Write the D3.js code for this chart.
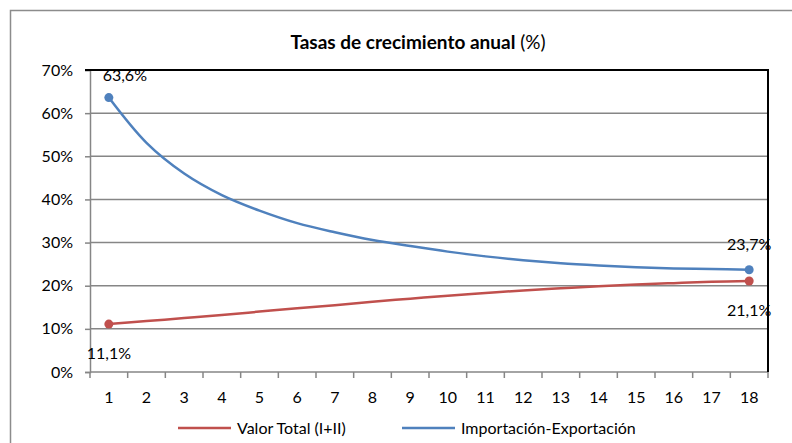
<!DOCTYPE html>
<meta charset="utf-8">
<head>
<title>Tasas de crecimiento anual</title>
<script src="https://d3js.org/d3.v7.min.js"></script>
<style>
  body { margin: 0; background: #fff; }
  text { font-family: Lato, "Open Sans", sans-serif; fill: #000; }
</style>
</head>
<body>
<div id="chart"></div>
<script>
// data
var years = ["1","2","3","4","5","6","7","8","9","10","11","12","13","14","15","16","17","18"];
var valorTotal = [11.1, 11.8, 12.5, 13.2, 14.0, 14.8, 15.5, 16.3, 17.0, 17.7, 18.3, 18.9, 19.4, 19.9, 20.3, 20.6, 20.9, 21.1];
var impExp = [63.6, 53.1, 46.0, 41.0, 37.4, 34.5, 32.4, 30.6, 29.2, 27.9, 26.8, 25.9, 25.2, 24.7, 24.3, 24.0, 23.85, 23.7];
var yTicks = [0, 10, 20, 30, 40, 50, 60, 70];
var seriesNames = ["Valor Total (I+II)", "Importación-Exportación"];

var W = 792, H = 443;
var margin = {top: 70, right: 24, bottom: 71, left: 90};
var width = W - margin.left - margin.right,
    height = H - margin.top - margin.bottom;

var svg = d3.select("#chart").append("svg")
    .attr("width", W)
    .attr("height", H);

// outer chart frame (cut off at right and bottom)
svg.append("rect")
    .attr("x", 10.5).attr("y", 10.5)
    .attr("width", 900).attr("height", 600)
    .attr("fill", "none")
    .attr("stroke", "#8c8c8c")
    .attr("stroke-width", 1.5);

// title
var title = svg.append("text")
    .attr("x", 418)
    .attr("y", 49)
    .attr("text-anchor", "middle")
    .style("font-size", "19px");
title.append("tspan").style("font-weight", "bold").text("Tasas de crecimiento anual");
title.append("tspan").text(" (%)");

var g = svg.append("g")
    .attr("transform", "translate(" + margin.left + "," + margin.top + ")");

var x = d3.scaleBand().domain(years).range([0, width]);
var y = d3.scaleLinear().domain([0, 70]).range([height, 0]);
var cx = function(d) { return x(d) + x.bandwidth() / 2; };

// gridlines
g.append("g")
  .selectAll("line")
  .data(yTicks.slice(1))
  .enter().append("line")
    .attr("x1", 0).attr("x2", width)
    .attr("y1", function(d) { return y(d); })
    .attr("y2", function(d) { return y(d); })
    .attr("stroke", "#868686")
    .attr("stroke-width", 1.5);

// y axis
var yAxis = g.append("g")
    .call(d3.axisLeft(y).tickValues(yTicks).tickSize(5).tickPadding(12)
      .tickFormat(function(d) { return d + "%"; }));
yAxis.selectAll("line, path").attr("stroke", "#868686").attr("stroke-width", 1.5);
yAxis.selectAll("text").style("font-size", "16px").style("font-family", "Lato, sans-serif");

// x axis, ticks at band boundaries
var xAxisG = g.append("g").attr("transform", "translate(0," + height + ")");
xAxisG.append("line")
    .attr("x1", 0).attr("x2", width)
    .attr("stroke", "#868686").attr("stroke-width", 1.5);
xAxisG.selectAll(".bt")
  .data(years.concat(["end"]))
  .enter().append("line")
    .attr("x1", function(d, i) { return i * x.bandwidth(); })
    .attr("x2", function(d, i) { return i * x.bandwidth(); })
    .attr("y1", 0).attr("y2", 6)
    .attr("stroke", "#868686").attr("stroke-width", 1.5);
xAxisG.selectAll(".xl")
  .data(years)
  .enter().append("text")
    .attr("x", cx)
    .attr("y", 31)
    .attr("text-anchor", "middle")
    .style("font-size", "16px")
    .text(function(d) { return d; });

// black plot border on top and right
g.append("line")
    .attr("x1", -5).attr("x2", width + 1).attr("y1", 0).attr("y2", 0)
    .attr("stroke", "#000").attr("stroke-width", 2);
g.append("line")
    .attr("x1", width).attr("x2", width).attr("y1", 0).attr("y2", height)
    .attr("stroke", "#000").attr("stroke-width", 2);

var line = d3.line()
    .x(function(d, i) { return cx(years[i]); })
    .y(function(d) { return y(d); })
    .curve(d3.curveCatmullRom.alpha(0.5));

var series = [
  {name: seriesNames[0], values: valorTotal, color: "#C0504D"},
  {name: seriesNames[1], values: impExp, color: "#4F81BD"}
];

series.forEach(function(s) {
  g.append("path")
      .datum(s.values)
      .attr("fill", "none")
      .attr("stroke", s.color)
      .attr("stroke-width", 2.5)
      .attr("d", line);
  var last = s.values.length - 1;
  g.selectAll(null)
    .data([0, last])
    .enter().append("circle")
      .attr("cx", function(i) { return cx(years[i]); })
      .attr("cy", function(i) { return y(s.values[i]); })
      .attr("r", 4.5)
      .attr("fill", s.color);
});

// data labels
var fmt = function(v) { return v.toFixed(1).replace(".", ",") + "%"; };
var labels = [
  {i: 0, v: impExp[0], dx: 16, dy: -17},
  {i: 0, v: valorTotal[0], dx: 0, dy: 35},
  {i: 17, v: impExp[17], dx: 0, dy: -20},
  {i: 17, v: valorTotal[17], dx: 0, dy: 35}
];
g.selectAll(".dl")
  .data(labels)
  .enter().append("text")
    .attr("x", function(d) { return cx(years[d.i]) + d.dx; })
    .attr("y", function(d) { return y(d.v) + d.dy; })
    .attr("text-anchor", "middle")
    .style("font-size", "16px")
    .text(function(d) { return fmt(d.v); });

// legend
var legend = svg.append("g").attr("transform", "translate(0,428)");
var legX = [178, 402];
series.forEach(function(s, i) {
  legend.append("line")
      .attr("x1", legX[i]).attr("x2", legX[i] + 53)
      .attr("y1", 0).attr("y2", 0)
      .attr("stroke", s.color).attr("stroke-width", 2.5);
  legend.append("text")
      .attr("x", legX[i] + 59)
      .attr("y", 5.5)
      .style("font-size", "16px")
      .text(s.name);
});
</script>
</body>
